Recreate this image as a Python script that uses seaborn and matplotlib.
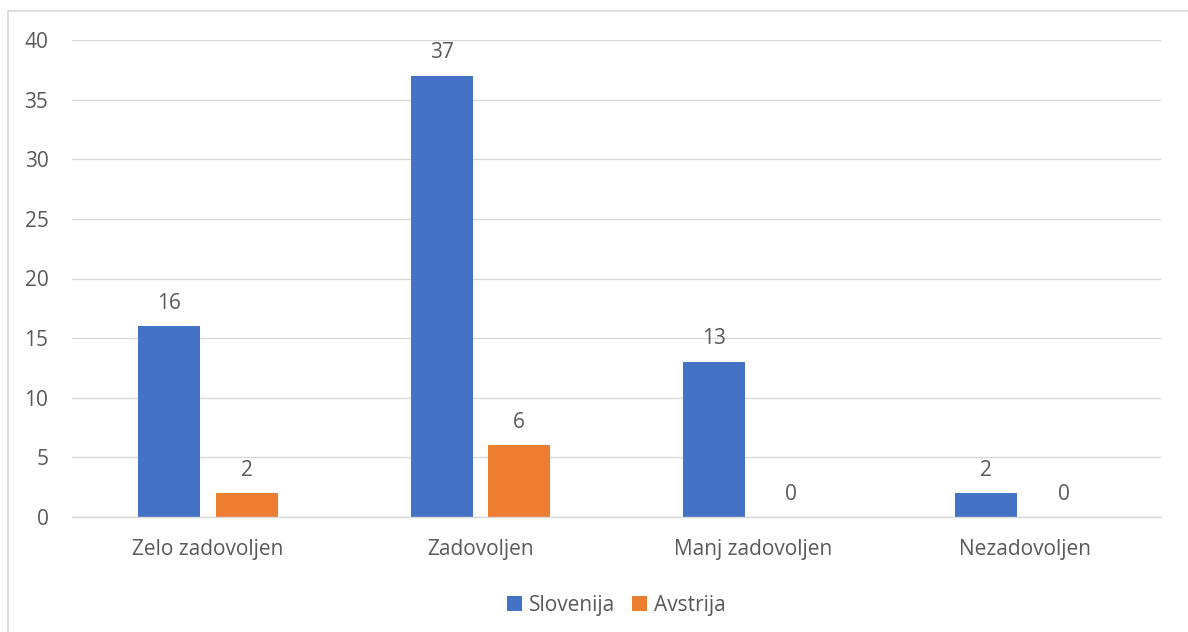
import pandas as pd
import seaborn as sns
import matplotlib.pyplot as plt
from matplotlib.patches import Rectangle

categories = ["Zelo zadovoljen", "Zadovoljen", "Manj zadovoljen", "Nezadovoljen"]
slovenija = [16, 37, 13, 2]
avstrija = [2, 6, 0, 0]
series_names = ["Slovenija", "Avstrija"]
y_ticks = [0, 5, 10, 15, 20, 25, 30, 35, 40]

df = pd.DataFrame({
    "Kategorija": categories * 2,
    "Vrednost": slovenija + avstrija,
    "Drzava": [series_names[0]] * 4 + [series_names[1]] * 4,
})

sns.set_theme(style="white")
plt.rcParams['font.family'] = ['Open Sans', 'DejaVu Sans']
text_col = "#595959"
fs = 15

fig = plt.figure(figsize=(11.88, 6.32), dpi=100)
ax = fig.add_axes([72 / 1188, 1 - 517 / 632, (1161 - 72) / 1188, (517 - 40) / 632])

sns.barplot(data=df, x="Kategorija", y="Vrednost", hue="Drzava",
            palette=["#4472C4", "#ED7D31"], width=0.57, gap=0.2,
            saturation=1, linewidth=0, ax=ax)

for cont in ax.containers:
    ax.bar_label(cont, padding=9, fontsize=fs, color=text_col)

ax.set_ylim(0, 40)
ax.set_yticks(y_ticks)
ax.set_xlim(-0.5, 3.5)
ax.yaxis.grid(True, color="#D9D9D9", linewidth=1)
ax.set_axisbelow(True)
for s in ["top", "right", "left"]:
    ax.spines[s].set_visible(False)
ax.spines["bottom"].set_color("#D9D9D9")
ax.spines["bottom"].set_linewidth(1)
ax.tick_params(axis="both", length=0, labelsize=fs, colors=text_col)
ax.tick_params(axis="x", pad=16)
ax.tick_params(axis="y", pad=17)
ax.set_xlabel("")
ax.set_ylabel("")

ax.legend(loc="center", bbox_to_anchor=(0.5, -0.185), ncol=2, frameon=False,
          fontsize=fs, labelcolor=text_col, handlelength=0.7, handleheight=0.7,
          handletextpad=0.35, columnspacing=0.8)

fig.patches.append(Rectangle((8 / 1188, -0.1), 1.2, 1.1 - 10.5 / 632,
                             transform=fig.transFigure, fill=False,
                             edgecolor="#D9D9D9", linewidth=1.2))

fig.savefig("out.png", dpi=100)
